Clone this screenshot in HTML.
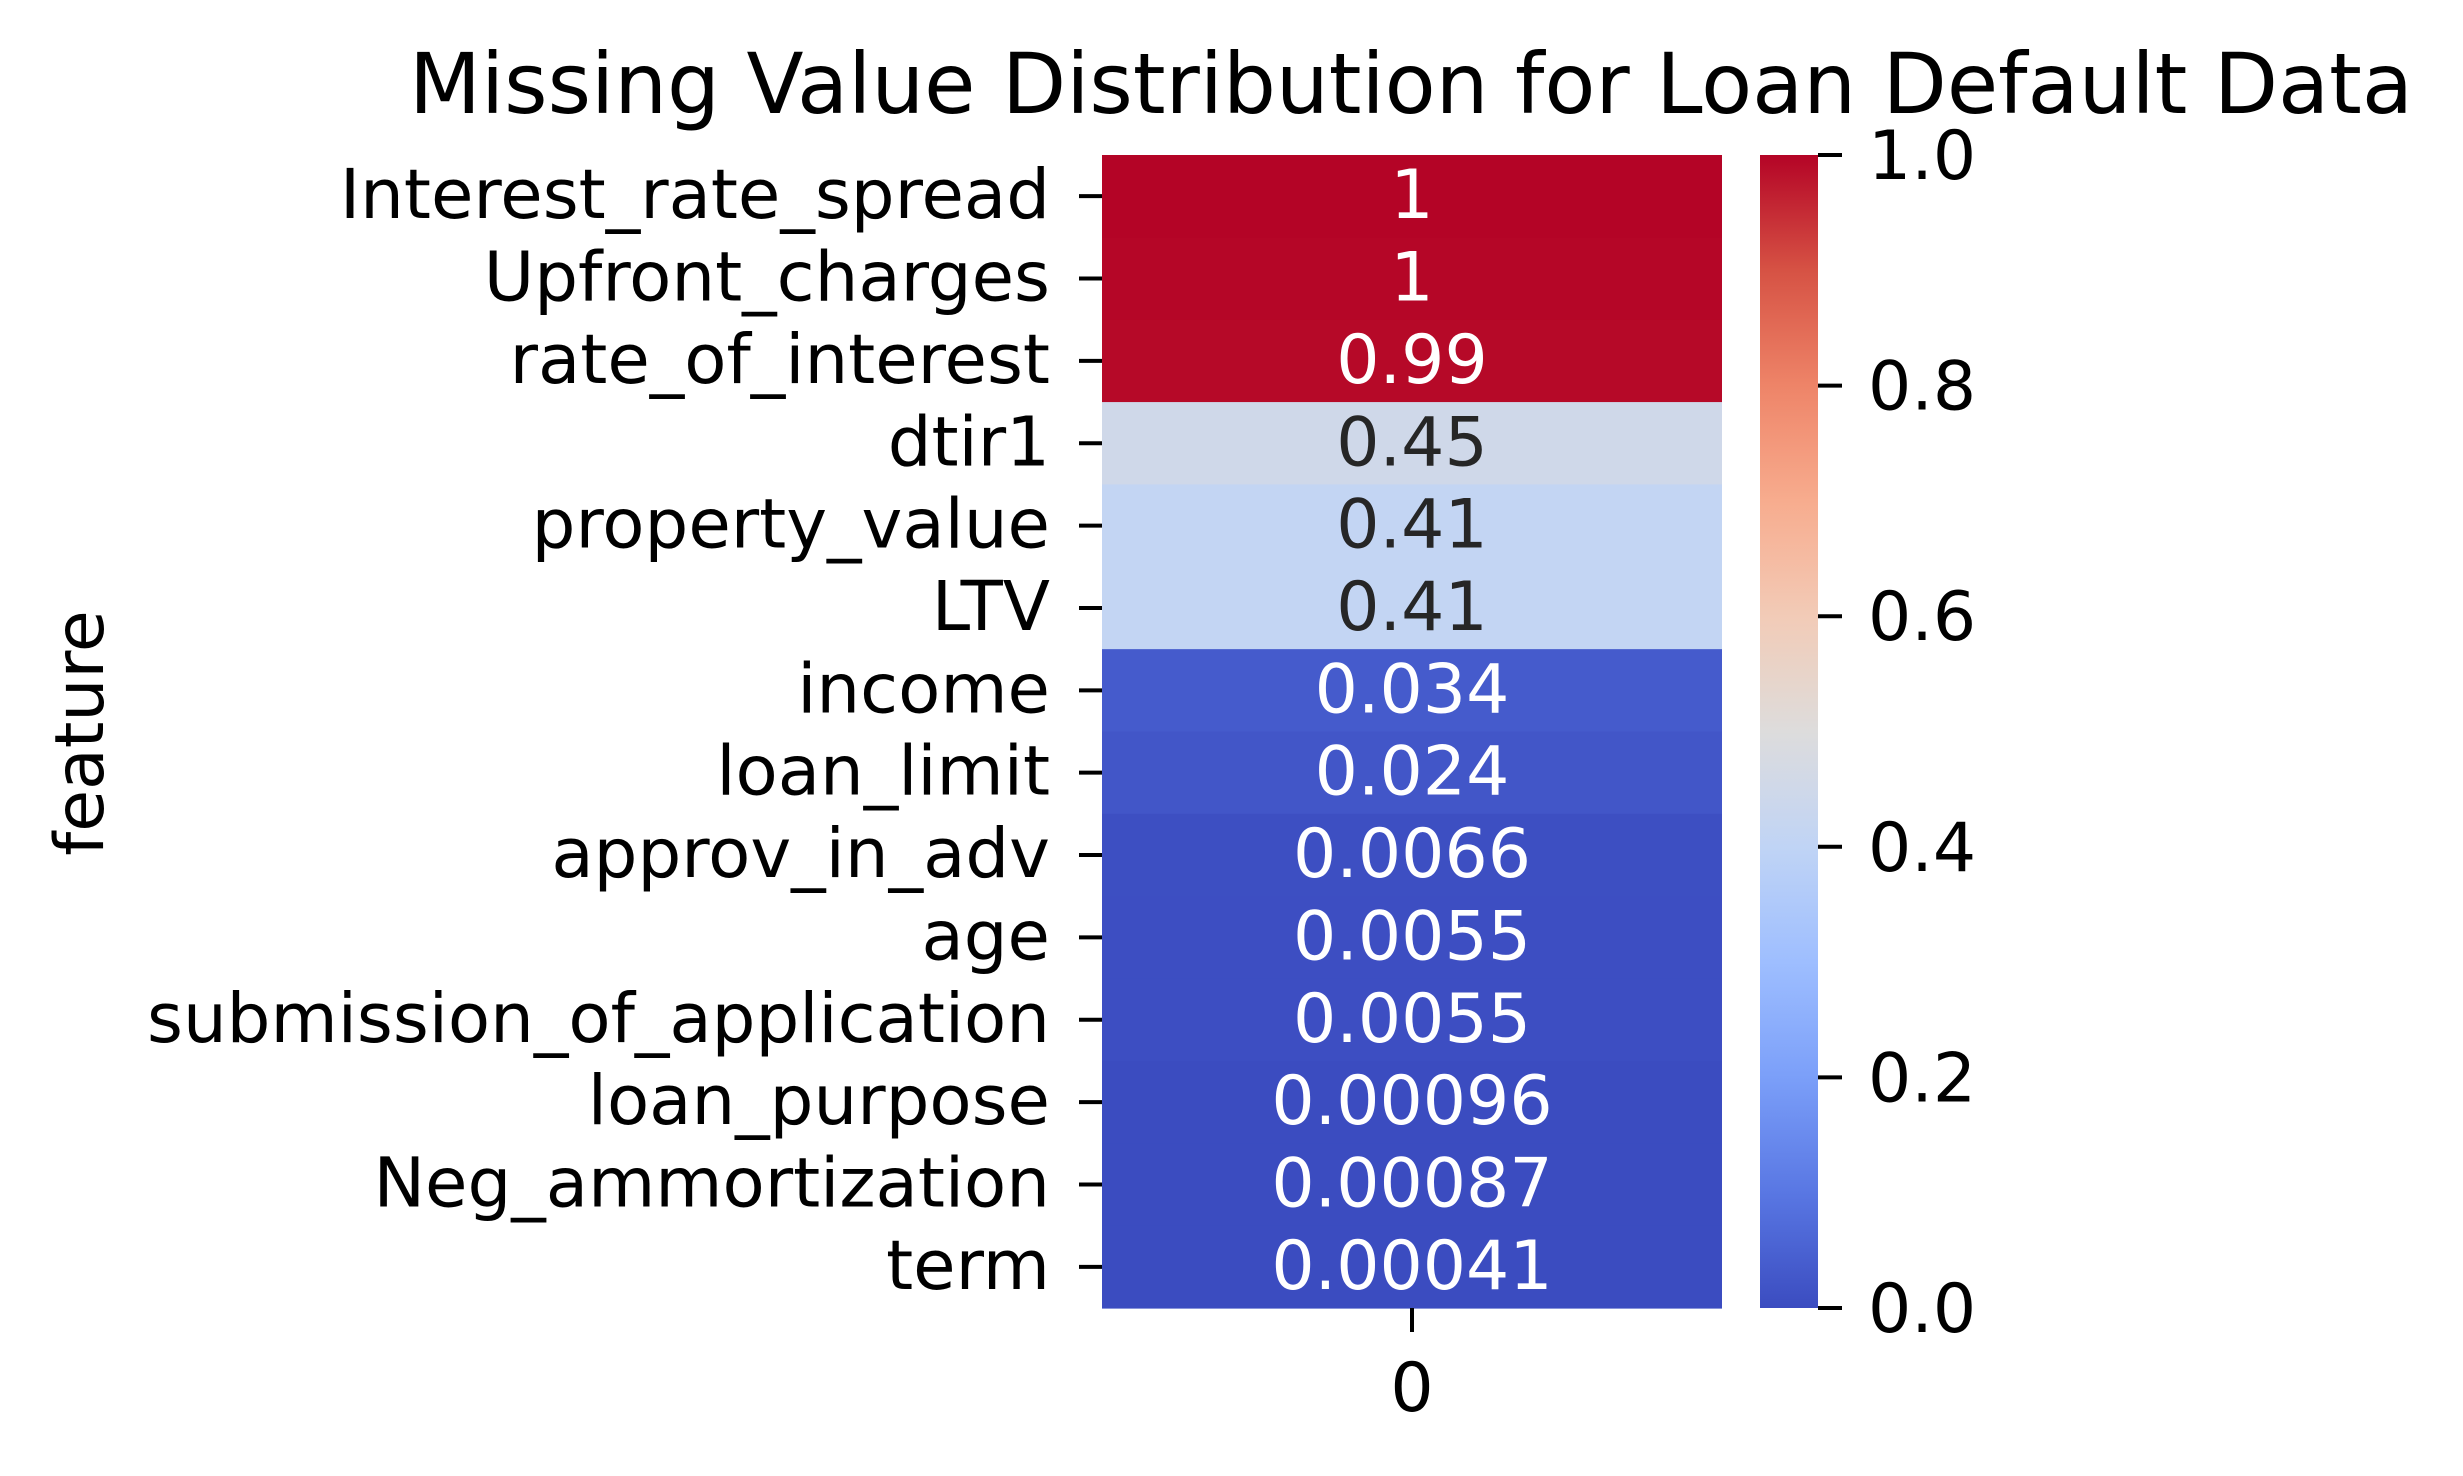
<!DOCTYPE html>
<html><head><meta charset="utf-8">
<style>
html,body{margin:0;padding:0;background:#fff;}
svg{display:block;font-family:"DejaVu Sans","Liberation Sans",sans-serif;}
</style></head>
<body>
<svg id="chart" width="2463" height="1476" viewBox="0 0 2463 1476" xmlns="http://www.w3.org/2000/svg">
<rect width="2463" height="1476" fill="#fff"/>
<text x="1411" y="113" font-size="83.4" text-anchor="middle" fill="#000">Missing Value Distribution for Loan Default Data</text>
<text transform="translate(103,733) rotate(-90)" font-size="68" text-anchor="middle" fill="#000">feature</text>
<g id="cells"></g>
<g id="ylabels"></g>
<g id="xaxis"></g>
<defs><linearGradient id="cbgrad" x1="0" y1="1" x2="0" y2="0"></linearGradient></defs>
<g id="cbar"></g>
</svg>
<script>
const features = ["Interest_rate_spread","Upfront_charges","rate_of_interest","dtir1","property_value","LTV","income","loan_limit","approv_in_adv","age","submission_of_application","loan_purpose","Neg_ammortization","term"];
const missingRates = [1.0, 0.997, 0.993, 0.45, 0.41, 0.41, 0.034, 0.024, 0.0066, 0.0055, 0.0055, 0.00096, 0.00087, 0.00041];
const xCategories = ["0"];
const cbarTicks = [0.0, 0.2, 0.4, 0.6, 0.8, 1.0];
const cbarTickLabels = ["0.0","0.2","0.4","0.6","0.8","1.0"];

const NS = "http://www.w3.org/2000/svg";
const L = 1102, R = 1722, T = 155, B = 1308;
const CBL = 1760, CBR = 1818;
const vmin = 0, vmax = 1;
const rowH = (B - T) / features.length;
function yPos(i){ return T + i * rowH; }
function cbY(v){ return B - (v - vmin) / (vmax - vmin) * (B - T); }

const cw = [[0,59,76,192],[0.1,89,119,227],[0.2,123,159,249],[0.3,158,190,255],[0.4,192,212,245],[0.5,221,220,220],[0.6,242,203,183],[0.7,247,172,142],[0.8,238,132,104],[0.9,214,82,68],[1.0,180,4,38]];
function coolwarm(t){
  t = Math.max(0, Math.min(1, t));
  for (let k = 0; k < cw.length - 1; k++){
    const a = cw[k], b = cw[k+1];
    if (t <= b[0]){
      const f = (t - a[0]) / (b[0] - a[0]);
      return [1,2,3].map(j => Math.round(a[j] + (b[j]-a[j]) * f));
    }
  }
  return [180,4,38];
}
function mk(tag, attrs, parent){
  const e = document.createElementNS(NS, tag);
  for (const k in attrs) e.setAttribute(k, attrs[k]);
  parent.appendChild(e);
  return e;
}
const cells = document.getElementById('cells');
const ylab = document.getElementById('ylabels');
missingRates.forEach((v, i) => {
  const c = coolwarm((v - vmin) / (vmax - vmin));
  const r = mk('rect', {x: L, y: yPos(i), width: R - L, height: rowH + 0.6, fill: `rgb(${c[0]},${c[1]},${c[2]})`}, cells);
  
  
  const lum = 0.2126*c[0] + 0.7152*c[1] + 0.0722*c[2];
  const t = mk('text', {x: (L + R) / 2, y: yPos(i) + rowH / 2 + 22, 'font-size': 68, 'text-anchor': 'middle', fill: lum > 140 ? '#262626' : '#ffffff'}, cells);
  t.textContent = String(parseFloat(v.toPrecision(2)));
  
  
  const tk = mk('line', {x1: L - 23, x2: L, y1: yPos(i) + rowH / 2, y2: yPos(i) + rowH / 2, stroke: '#000', 'stroke-width': 4}, ylab);
  
  
  const lb = mk('text', {x: L - 52, y: yPos(i) + rowH / 2 + 22, 'font-size': 69, 'text-anchor': 'end', fill: '#000'}, ylab);
  lb.textContent = features[i];
  
  
});
const xa = document.getElementById('xaxis');
xCategories.forEach((c, i) => {
  const cx = L + (i + 0.5) * (R - L) / xCategories.length;
  const tk = mk('line', {x1: cx, x2: cx, y1: B, y2: B + 24, stroke: '#000', 'stroke-width': 4}, xa);
  
  
  const t = mk('text', {x: cx, y: B + 103, 'font-size': 68, 'text-anchor': 'middle', fill: '#000'}, xa);
  t.textContent = c;
  
  
});
const grad = document.getElementById('cbgrad');
for (let k = 0; k <= 20; k++){
  const c = coolwarm(k / 20);
  mk('stop', {offset: (k / 20 * 100) + '%', 'stop-color': `rgb(${c[0]},${c[1]},${c[2]})`}, grad);
}
const cb = document.getElementById('cbar');
const cbr = mk('rect', {x: CBL, y: T, width: CBR - CBL, height: B - T, fill: 'url(#cbgrad)'}, cb);


cbarTicks.forEach((v, i) => {
  const y = cbY(v);
  const tk = mk('line', {x1: CBR, x2: CBR + 24, y1: y, y2: y, stroke: '#000', 'stroke-width': 4}, cb);
  
  
  const t = mk('text', {x: CBR + 50, y: y + 24, 'font-size': 68, fill: '#000'}, cb);
  t.textContent = cbarTickLabels[i];
  
  
});
</script>
</body></html>
